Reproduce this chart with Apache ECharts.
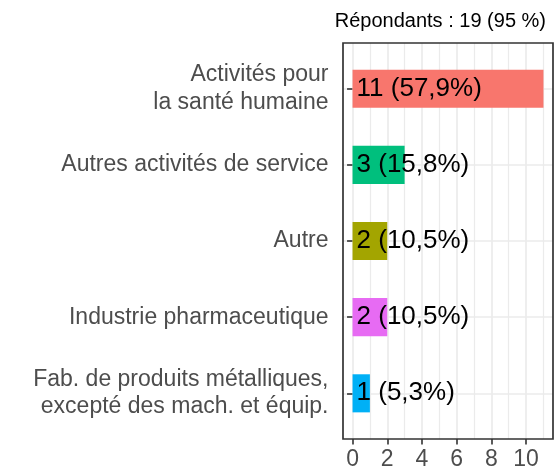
<!DOCTYPE html>
<html>
<head>
<meta charset="utf-8">
<script src="https://cdn.jsdelivr.net/npm/echarts@6/dist/echarts.min.js"></script>
<style>
  html, body { margin: 0; padding: 0; background: #fff; }
  #chart { width: 555px; height: 472px; }
</style>
</head>
<body>
<div id="chart"></div>
<script>
var categories = [
  'Activités pour\nla santé humaine',
  'Autres activités de service',
  'Autre',
  'Industrie pharmaceutique',
  'Fab. de produits métalliques,\nexcepté des mach. et équip.'
]
var counts = [11, 3, 2, 2, 1]
var colors = ['#F8766D', '#00BF7D', '#A3A500', '#E76BF3', '#00B0F6']
var total = 19
var majorTicks = [0, 2, 4, 6, 8, 10]
var minorTicks = [1, 3, 5, 7, 9, 11]
var rowTicks = [1, 2, 3, 4, 5]

var font = 'Liberation Sans, Arial, sans-serif'
var xMin = -0.55, xMax = 11.55

var myChart = echarts.init(document.getElementById('chart'), null, { renderer: 'canvas' })

function pct(v) {
  return (v / total * 100).toFixed(1).replace('.', ',')
}

var option = {
  animation: false,
  backgroundColor: '#fff',
  textStyle: { fontFamily: font },
  title: {
    text: 'Répondants : 19 (95 %)',
    right: 4,
    top: 6,
    textStyle: { fontFamily: font, fontSize: 20, fontWeight: 'normal', color: '#000' }
  },
  grid: [
    // bars
    { left: 343, right: 2, top: 50.6, bottom: 40.6, containLabel: false },
    // panel: border, grid lines, x axis
    { left: 343, right: 2, top: 43, bottom: 33, containLabel: false, show: true, borderColor: '#333', borderWidth: 1.7, backgroundColor: 'transparent', z: 1 }
  ],
  xAxis: [
    { gridIndex: 0, type: 'value', min: xMin, max: xMax, show: false },
    {
      gridIndex: 1, type: 'value', min: xMin, max: xMax,
      axisLine: { show: false },
      axisTick: { show: true, length: 5.5, lineStyle: { color: '#333', width: 1.6 }, customValues: majorTicks },
      axisLabel: { color: '#4D4D4D', fontSize: 23, fontFamily: font, margin: 9.5, customValues: majorTicks },
      splitLine: { show: true, lineStyle: { color: '#EBEBEB', width: 1.7 } }
    },
    {
      gridIndex: 1, type: 'value', min: xMin, max: xMax,
      axisLine: { show: false },
      axisTick: { show: false, customValues: minorTicks },
      axisLabel: { show: false, customValues: minorTicks },
      splitLine: { show: true, lineStyle: { color: '#EBEBEB', width: 1.2 } }
    }
  ],
  yAxis: [
    {
      gridIndex: 0, type: 'category', data: categories, inverse: true,
      axisLine: { show: false },
      axisTick: { show: true, alignWithLabel: true, length: 5.5, lineStyle: { color: '#333', width: 1.6 } },
      axisLabel: { color: '#4D4D4D', fontSize: 23, fontFamily: font, margin: 14.5, lineHeight: 27.5, align: 'right' },
      splitLine: { show: false }
    },
    {
      gridIndex: 1, type: 'value', min: 0.4, max: 5.6,
      axisLine: { show: false },
      axisTick: { show: false, customValues: rowTicks },
      axisLabel: { show: false, customValues: rowTicks },
      splitLine: { show: true, lineStyle: { color: '#EBEBEB', width: 1.7 } }
    }
  ],
  series: [{
    type: 'bar',
    xAxisIndex: 0,
    yAxisIndex: 0,
    barWidth: '50%',
    z: 5,
    data: counts.map((v, i) => ({ value: v, itemStyle: { color: colors[i] } })),
    label: {
      show: true,
      position: 'insideLeft',
      distance: 4,
      color: '#000',
      fontSize: 26,
      fontFamily: font,
      formatter: p => p.value + ' (' + pct(p.value) + '%)'
    }
  }]
}

myChart.setOption(option)
</script>
</body>
</html>
